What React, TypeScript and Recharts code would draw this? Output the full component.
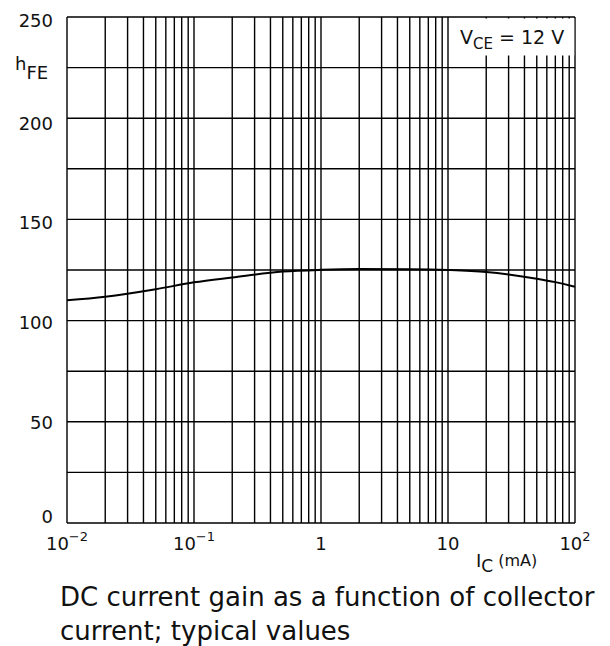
import React from "react";
import { LineChart, Line, XAxis, YAxis, CartesianGrid, ReferenceArea } from "recharts";

const icValues = [0.01, 0.02, 0.05, 0.1, 0.2, 0.5, 1, 2, 5, 10, 20, 30, 50, 70, 100];
const hfeValues = [110, 111.8, 115.5, 118.9, 121.3, 124.2, 125.1, 125.5, 125.4, 125, 124, 122.8, 120.7, 119, 116.7];

const xTicks = [
  0.01, 0.02, 0.03, 0.04, 0.05, 0.06, 0.07, 0.08, 0.09,
  0.1, 0.2, 0.3, 0.4, 0.5, 0.6, 0.7, 0.8, 0.9,
  1, 2, 3, 4, 5, 6, 7, 8, 9,
  10, 20, 30, 40, 50, 60, 70, 80, 90,
  100,
];
const xLabelValues = [0.01, 0.1, 1, 10, 100];
const xLabelBase = ["10", "10", "1", "10", "10"];
const xLabelExp = ["\u22122", "\u22121", "", "", "2"];

const yTicks = [0, 25, 50, 75, 100, 125, 150, 175, 200, 225, 250];
const yLabelValues = [0, 50, 100, 150, 200, 250];
const yLabelShift: Record<number, number> = { 0: -7, 50: 1, 100: 2, 150: 3, 200: 5, 250: 3 };

const data = icValues.map((ic, i) => ({ ic, h: hfeValues[i] }));

const FONT = "'DejaVu Sans', 'Liberation Sans', Arial, sans-serif";
const INK = "#111";

const XTick = (props: any) => {
  const { x, y, payload } = props;
  const idx = xLabelValues.findIndex((v) => Math.abs(v - payload.value) < 1e-9);
  if (idx < 0) return null;
  const exp = xLabelExp[idx];
  return (
    <text x={x} y={y + 19} textAnchor="middle" fontSize={18} fill={INK} fontFamily={FONT}>
      {xLabelBase[idx]}
      {exp ? (
        <tspan dy={-9} fontSize={13}>
          {exp}
        </tspan>
      ) : null}
    </text>
  );
};

const YTick = (props: any) => {
  const { x, y, payload } = props;
  if (!yLabelValues.includes(payload.value)) return null;
  return (
    <text x={x - 6} y={y + 6.5 + (yLabelShift[payload.value] || 0)} textAnchor="end" fontSize={18} fill={INK} fontFamily={FONT}>
      {payload.value}
    </text>
  );
};

export default function App() {
  return (
    <div style={{ position: "absolute", left: 0, top: 0, width: 610, height: 646, background: "#fff", fontFamily: FONT }}>
      <LineChart width={610} height={646} data={data} margin={{ top: 17, right: 35, bottom: 93, left: 0 }}>
        <CartesianGrid stroke="#000" strokeWidth={1.4} />
        <XAxis
          dataKey="ic"
          type="number"
          scale="log"
          domain={[0.01, 100]}
          allowDataOverflow
          ticks={xTicks}
          interval={0}
          axisLine={false}
          tickLine={false}
          height={30}
          tick={<XTick />}
        />
        <YAxis
          type="number"
          domain={[0, 250]}
          ticks={yTicks}
          interval={0}
          axisLine={false}
          tickLine={false}
          width={67}
          tick={<YTick />}
        />
        <ReferenceArea x1={11.5} x2={98.6} y1={231} y2={249.3} fill="#fff" fillOpacity={1} stroke="none" ifOverflow="hidden" />
        <Line dataKey="h" type="monotone" stroke="#000" strokeWidth={2} dot={false} isAnimationActive={false} />
      </LineChart>
      <svg width={610} height={646} style={{ position: "absolute", left: 0, top: 0, pointerEvents: "none" }}>
        <text x={15} y={70} fontSize={18} fill={INK} fontFamily={FONT}>
          h
          <tspan dy={9} fontSize={18}>FE</tspan>
        </text>
        <text x={460} y={44} fontSize={19} fill={INK} fontFamily={FONT}>
          V
          <tspan dy={5} fontSize={15}>CE</tspan>
          <tspan dy={-5}> = 12 V</tspan>
        </text>
        <text x={476} y={567} fontSize={18} fill={INK} fontFamily={FONT}>
          I
          <tspan dy={5} fontSize={17}>C</tspan>
          <tspan dy={-6} fontSize={16}> (mA)</tspan>
        </text>
        <text x={60} y={606} fontSize={26} fill={INK} fontFamily={FONT}>
          DC current gain as a function of collector
        </text>
        <text x={60} y={640} fontSize={26} fill={INK} fontFamily={FONT}>
          current; typical values
        </text>
      </svg>
    </div>
  );
}
